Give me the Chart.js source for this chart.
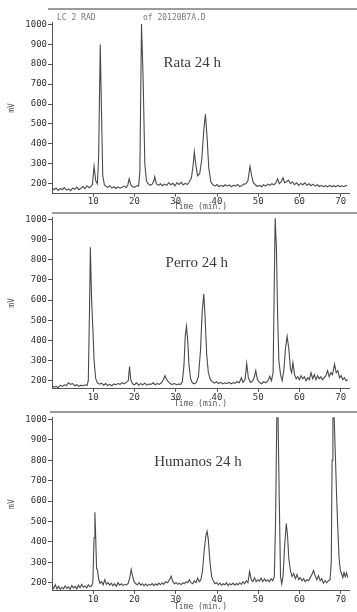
<!DOCTYPE html>
<html>
<head>
<meta charset="utf-8">
<script src="https://cdn.jsdelivr.net/npm/chart.js@4.4.1/dist/chart.umd.min.js"></script>
<style>
  html, body { margin: 0; padding: 0; background: #fff; }
  #wrap { position: relative; width: 357px; height: 612px; overflow: hidden; background: #fff; }
  canvas { position: absolute; left: 0; }
</style>
</head>
<body>
<div id="wrap">
  <canvas id="rata" width="357" height="212" style="top:0px"></canvas>
  <canvas id="perro" width="357" height="209" style="top:200px"></canvas>
  <canvas id="humanos" width="357" height="212" style="top:400px"></canvas>
</div>
<script>
// [time (min), signal (mV)]
const rataTrace = [
  [0,180],[0.5,170],[1,178],[1.5,166],[2,176],[2.5,170],[3,181],[3.5,168],[4,174],[4.5,165],
  [5,178],[5.5,172],[6,183],[6.5,170],[7,177],[7.5,186],[8,175],[8.5,190],[9,180],[9.5,188],
  [9.8,195],[10.2,288],[10.6,215],[11,200],[11.3,330],[11.7,898],[12,560],[12.3,240],[12.7,195],[13,188],
  [13.5,182],[14,190],[14.5,178],[15,185],[15.5,176],[16,184],[16.5,178],[17,182],[17.5,188],[18,180],
  [18.4,195],[18.7,225],[19.1,195],[19.5,185],[20,182],[20.5,190],[21,188],[21.3,260],[21.7,1002],[22.1,720],
  [22.5,300],[22.9,215],[23.3,200],[23.8,192],[24.3,198],[24.7,215],[24.9,235],[25.3,200],[25.8,192],[26.3,200],
  [26.8,190],[27.3,198],[27.8,192],[28.3,205],[28.8,195],[29.3,202],[29.8,190],[30.3,205],[30.8,196],[31.3,208],
  [31.8,194],[32.3,202],[32.8,196],[33.3,210],[33.8,230],[34.2,290],[34.5,360],[34.9,290],[35.3,240],[35.8,250],
  [36.3,320],[36.8,470],[37.2,548],[37.6,430],[38,280],[38.5,210],[39,195],[39.5,188],[40,196],[40.5,185],
  [41,192],[41.5,186],[42,195],[42.5,188],[43,194],[43.5,185],[44,192],[44.5,188],[45,196],[45.5,186],
  [46,190],[46.5,198],[47,200],[47.5,215],[48,288],[48.4,240],[48.8,205],[49.3,195],[49.8,186],[50.3,192],
  [50.8,185],[51.3,195],[51.8,188],[52.3,198],[52.8,192],[53.3,200],[53.8,195],[54.3,205],[54.7,225],[55.1,200],
  [55.6,212],[56,230],[56.4,205],[56.9,210],[57.3,218],[57.8,200],[58.3,210],[58.8,195],[59.3,205],[59.8,192],
  [60.3,202],[60.8,195],[61.3,205],[61.8,192],[62.3,200],[62.8,190],[63.3,198],[63.8,188],[64.3,195],[64.8,186],
  [65.3,192],[65.8,185],[66.3,190],[66.8,184],[67.3,192],[67.8,186],[68.3,190],[68.8,184],[69.3,192],[69.8,186],
  [70.3,190],[70.8,185],[71.3,192],[71.6,188]
];

const perroTrace = [
  [0,175],[0.5,168],[1,172],[1.5,165],[2,178],[2.5,172],[3,180],[3.5,176],[4,190],[4.5,182],
  [5,186],[5.5,175],[6,180],[6.5,172],[7,178],[7.5,174],[8,180],[8.5,176],[8.8,200],[9.1,560],
  [9.3,862],[9.6,600],[9.9,460],[10.2,300],[10.6,210],[11,190],[11.5,183],[12,188],[12.5,178],[13,186],
  [13.5,176],[14,182],[14.5,175],[15,184],[15.5,180],[16,186],[16.5,182],[17,190],[17.5,184],[18,192],
  [18.5,200],[18.8,270],[19.1,205],[19.5,185],[20,180],[20.5,190],[21,178],[21.5,186],[22,180],[22.5,188],
  [23,178],[23.5,184],[24,182],[24.5,190],[25,180],[25.5,186],[26,182],[26.5,190],[27,205],[27.4,225],
  [27.8,205],[28.2,195],[28.7,185],[29.2,182],[29.7,186],[30.2,180],[30.7,184],[31.2,182],[31.6,195],[32,280],
  [32.3,420],[32.6,470],[32.9,400],[33.2,280],[33.6,210],[34,190],[34.5,185],[35,192],[35.5,220],[36,350],
  [36.4,540],[36.8,630],[37.1,520],[37.5,330],[37.9,240],[38.4,205],[38.9,195],[39.4,188],[39.9,195],[40.4,186],
  [40.9,192],[41.4,184],[41.9,190],[42.4,186],[42.9,192],[43.4,185],[43.9,190],[44.4,188],[44.9,195],[45.4,190],
  [45.9,215],[46.3,192],[46.8,205],[47.2,285],[47.6,215],[48.1,192],[48.6,198],[49,215],[49.4,250],[49.8,205],
  [50.3,192],[50.8,185],[51.3,195],[51.8,190],[52.3,198],[52.8,222],[53.2,200],[53.6,240],[53.9,700],[54.1,1005],
  [54.4,860],[54.7,520],[55,300],[55.4,230],[55.8,200],[56.2,250],[56.6,360],[57,420],[57.4,360],[57.8,260],
  [58.1,240],[58.4,290],[58.8,230],[59.2,210],[59.6,220],[60,205],[60.4,225],[60.8,210],[61.2,220],[61.6,200],
  [62,215],[62.4,205],[62.8,240],[63.2,210],[63.6,230],[64,205],[64.4,225],[64.8,210],[65.2,220],[65.6,205],
  [66,215],[66.4,225],[66.8,250],[67.2,220],[67.6,240],[68,230],[68.5,282],[68.9,240],[69.3,250],[69.7,215],
  [70.1,225],[70.5,205],[70.9,215],[71.3,200],[71.7,205]
];

const humanosTrace = [
  [0,185],[0.4,172],[0.8,190],[1.2,170],[1.6,182],[2,168],[2.4,178],[2.8,170],[3.2,185],[3.6,172],
  [4,180],[4.4,168],[4.8,186],[5.2,175],[5.6,182],[6,170],[6.4,188],[6.8,176],[7.2,192],[7.6,178],
  [8,184],[8.4,174],[8.8,190],[9.2,180],[9.6,185],[9.9,200],[10.2,420],[10.4,545],[10.6,420],[10.8,270],
  [11,265],[11.3,220],[11.6,198],[12,205],[12.4,190],[12.8,215],[13.2,192],[13.6,200],[14,188],[14.4,198],
  [14.8,185],[15.2,195],[15.6,182],[16,200],[16.4,188],[16.8,195],[17.2,186],[17.6,192],[18,188],[18.5,198],
  [18.9,230],[19.2,265],[19.5,235],[19.9,205],[20.3,195],[20.7,190],[21.1,200],[21.5,188],[21.9,195],[22.3,186],
  [22.7,194],[23.1,185],[23.5,192],[23.9,188],[24.3,196],[24.7,186],[25.1,195],[25.5,188],[25.9,198],[26.3,190],
  [26.7,200],[27.1,192],[27.5,205],[28,200],[28.5,215],[28.9,232],[29.3,205],[29.7,195],[30.1,200],[30.5,192],
  [30.9,198],[31.3,190],[31.7,200],[32.1,195],[32.5,205],[32.9,200],[33.3,215],[33.7,200],[34.1,195],[34.5,210],
  [34.9,200],[35.3,222],[35.7,205],[36.1,215],[36.5,260],[36.9,360],[37.3,430],[37.6,452],[37.9,410],[38.3,300],
  [38.7,230],[39.1,210],[39.5,195],[39.9,200],[40.3,190],[40.7,198],[41.1,188],[41.5,195],[41.9,190],[42.3,200],
  [42.7,186],[43.1,195],[43.5,190],[43.9,198],[44.3,188],[44.7,196],[45.1,190],[45.5,200],[45.9,192],[46.3,205],
  [46.7,195],[47.1,210],[47.5,200],[47.9,255],[48.3,215],[48.7,205],[49.1,225],[49.5,205],[49.9,215],[50.3,208],
  [50.7,222],[51.1,205],[51.5,218],[51.9,208],[52.3,215],[52.7,205],[53.1,220],[53.5,210],[53.9,230],[54.2,500],
  [54.5,1010],[54.8,1010],[55.1,600],[55.4,230],[55.7,195],[56,230],[56.4,380],[56.8,490],[57.1,430],[57.4,320],
  [57.8,260],[58.2,230],[58.6,245],[59,220],[59.4,240],[59.8,215],[60.2,225],[60.6,210],[61,220],[61.4,205],
  [61.8,215],[62.2,210],[62.6,225],[63,240],[63.4,260],[63.8,235],[64.2,215],[64.6,235],[65,210],[65.4,220],
  [65.8,198],[66.2,210],[66.6,200],[67,210],[67.4,215],[67.7,300],[67.9,800],[68.1,1010],[68.4,1010],[68.7,820],
  [69,620],[69.3,460],[69.6,320],[69.9,260],[70.2,245],[70.5,225],[70.8,250],[71.1,230],[71.4,248],[71.7,225]
];

const sampleNames = ['Rata 24 h', 'Perro 24 h', 'Humanos 24 h'];
const timeTicks = [10, 20, 30, 40, 50, 60, 70];
const mvTicks = [200, 300, 400, 500, 600, 700, 800, 900, 1000];

const INK = '#4a4a4a';
const MONO = "'DejaVu Sans Mono', monospace";

// rule across the top of each trace, the sample name, and the file header on the first one
const decor = {
  id: 'decor',
  afterDraw (chart, args, o) {
    const { ctx, scales: { x, y } } = chart;
    ctx.save();
    ctx.strokeStyle = '#7a7a7a';
    ctx.lineWidth = 1.5;
    ctx.beginPath();
    ctx.moveTo(o.ruleFrom, o.ruleY);
    ctx.lineTo(357, o.ruleY);
    ctx.stroke();
    if (o.header) {
      ctx.fillStyle = '#7a7a7a';
      ctx.font = '8px ' + MONO;
      ctx.textBaseline = 'middle';
      ctx.fillText(o.header[0], 57, o.ruleY + 9);
      ctx.fillText(o.header[1], 143, o.ruleY + 9);
    }
    ctx.fillStyle = '#3c3c3c';
    ctx.font = "15px 'Liberation Serif', 'DejaVu Serif', serif";
    ctx.textAlign = 'center';
    ctx.textBaseline = 'middle';
    ctx.fillText(o.label, x.getPixelForValue(o.labelAt[0]), y.getPixelForValue(o.labelAt[1]));
    ctx.restore();
  }
};

function makePanel (id, trace, opts) {
  new Chart(document.getElementById(id), {
    type: 'line',
    data: {
      datasets: [{
        data: trace.map(([t, mv]) => ({ x: t, y: mv })),
        borderColor: INK,
        borderWidth: 1.1,
        pointRadius: 0,
        tension: 0,
        fill: false
      }]
    },
    options: {
      responsive: false,
      animation: false,
      events: [],
      layout: { padding: { top: opts.top, right: 8, bottom: 0, left: 0 } },
      plugins: {
        legend: { display: false },
        tooltip: { enabled: false },
        decor: opts.decor
      },
      scales: {
        x: {
          type: 'linear',
          min: 0,
          max: 72,
          afterBuildTicks: (s) => { s.ticks = timeTicks.map((v) => ({ value: v })) },
          afterFit: (s) => { s.height = opts.xHeight },
          border: { color: '#555', width: 1 },
          grid: { display: true, drawOnChartArea: false, tickLength: 3, color: '#555' },
          ticks: { color: '#333', font: { family: MONO, size: 9 }, padding: 0, maxRotation: 0, autoSkip: false, callback: (v) => String(v) },
          title: { display: true, text: 'Time (min.)', color: '#555', font: { family: MONO, size: 8 }, padding: { top: 0, bottom: 0 } }
        },
        y: {
          min: opts.yMin,
          max: 1010,
          afterBuildTicks: (s) => { s.ticks = mvTicks.map((v) => ({ value: v })) },
          afterFit: (s) => { s.width = 52 },
          border: { color: '#555', width: 1 },
          grid: { display: true, drawOnChartArea: false, tickLength: 4, color: '#555' },
          ticks: { color: '#333', font: { family: MONO, size: 9 }, padding: 1, autoSkip: false, callback: (v) => String(v) },
          title: { display: true, text: 'mV', color: '#555', font: { family: MONO, size: 8 }, padding: { top: 7, bottom: 0 } }
        }
      }
    },
    plugins: [decor]
  })
}

makePanel('rata', rataTrace, {
  top: 22.3, xHeight: 18.3, yMin: 150,
  decor: { label: sampleNames[0], labelAt: [34, 805], ruleY: 9, ruleFrom: 48, header: ['LC 2 RAD', 'of 20120B7A.D'] }
});
makePanel('perro', perroTrace, {
  top: 17.3, xHeight: 20.2, yMin: 160,
  decor: { label: sampleNames[1], labelAt: [35.1, 783], ruleY: 13, ruleFrom: 52 }
});
makePanel('humanos', humanosTrace, {
  top: 17.3, xHeight: 21.1, yMin: 160,
  decor: { label: sampleNames[2], labelAt: [35.4, 790], ruleY: 12, ruleFrom: 50 }
});
</script>
</body>
</html>
